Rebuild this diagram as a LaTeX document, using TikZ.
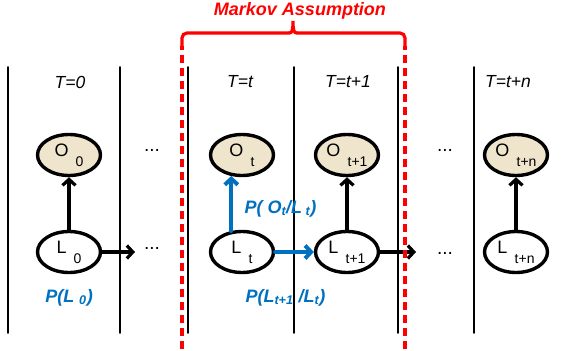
\documentclass[tikz,border=0pt]{standalone}
\usepackage{fontspec}
\setmainfont{Liberation Sans}
\usetikzlibrary{arrows.meta,positioning,shapes.geometric}
\definecolor{rojo}{HTML}{FF0000}
\definecolor{azul}{HTML}{0070C0}
\definecolor{arena}{HTML}{EFE5CC}
\newcommand{\nsub}[2]{#1\hspace{0.4em}\raisebox{-0.55em}{\fontsize{14}{14}\selectfont #2}}

\begin{document}
\begin{tikzpicture}[x=1pt,y=-1pt,
          >={Straight Barb[length=6pt,width=13pt]},line cap=round,
          estado/.style={ellipse,draw=black,line width=3.4pt,inner sep=0pt,
                         minimum width=63pt,minimum height=41pt,
                         font=\fontsize{18}{18}\selectfont},
          obs/.style={estado,fill=arena},
          sep/.style={black,line width=1.7pt},
          arr/.style={->,black,line width=3.2pt},
          arrb/.style={->,azul,line width=4pt},
          tlab/.style={font=\fontsize{17.5}{17.5}\selectfont\itshape},
          plab/.style={azul,font=\fontsize{18}{18}\selectfont\bfseries\itshape},
          puntos/.style={font=\fontsize{19}{19}\selectfont,inner sep=1pt},
          marco/.style={rojo,line width=3.2pt}]
        \useasboundingbox (0,0) rectangle (571,351);
        % separadores de tiempo
        \foreach \x in {8,120,188,294,398,474}
          \draw[sep] (\x,67) -- (\x,333);
        % cabeceras
        \node[tlab] (t0) at (70,82) {T=0};
        \node[tlab] (tt) at (240,82) {T=t};
        \node[tlab] (t1) at (348,82) {T=t+1};
        \node[tlab] (tn) at (508,82) {T=t+n};
        % observaciones y estados
        \node[obs] (o0) at (69,155) {\nsub{O}{0}};
        \node[obs] (ot) at (242,155) {\nsub{O}{t}};
        \node[obs] (o1) at (347,155) {\nsub{O}{t+1}};
        \node[obs] (on) at (516,155) {\nsub{O}{t+n}};
        \node[estado] (l0) at (69,252) {\nsub{L}{0}};
        \node[estado] (lt) at (242,252) {\nsub{L}{t}};
        \node[estado] (l1) at (347,252) {\nsub{L}{t+1}};
        \node[estado] (ln) at (516,252) {\nsub{L}{t+n}};
        \node[puntos] (d1) at (152,150) {...};
        \node[puntos] (d2) at (152,248) {...};
        \node[puntos] (d3) at (445,150) {...};
        \node[puntos] (d4) at (445,253) {...};
        \coordinate (c0) at (135,252);
        \coordinate (c1) at (416,252);
        % transiciones
        \draw[arr] (l0) -- (o0);
        \draw[arr] (l1) -- (o1);
        \draw[arr] (ln) -- (on);
        \draw[arr] (l0) -- (c0);
        \draw[arr] (l1) -- (c1);
        \draw[arrb] (lt.117) -- (ot.243);
        \draw[arrb] (lt) -- (l1);
        % probabilidades
        \node[plab,anchor=base] (pl0) at (69,302) {P(L \textsubscript{0})};
        \node[plab,anchor=base west] (pobs) at (241,213)
          {P( O\textsubscript{t}/L\textsubscript{ t})};
        \node[plab,anchor=base west] (ptr) at (242,302)
          {P(L\textsubscript{t+1} /L\textsubscript{t})};
        % supuesto de Markov
        \draw[marco,dash pattern=on 8pt off 5pt,line cap=butt] (182,349) -- (182,46);
        \draw[marco,dash pattern=on 8pt off 5pt,line cap=butt] (405,349) -- (405,46);
        \draw[marco,rounded corners=5pt] (182,46) -- (182,33) -- (289,33);
        \draw[marco,rounded corners=5pt] (297,33) -- (405,33) -- (405,46);
        \draw[marco] (289,33) .. controls (292,33) and (293,31) .. (293,21)
                             .. controls (293,31) and (294,33) .. (297,33);
        \node[rojo,font=\fontsize{18}{18}\selectfont\bfseries\itshape] (markov)
          at (300,11) {Markov Assumption};
      \end{tikzpicture}
\end{document}
